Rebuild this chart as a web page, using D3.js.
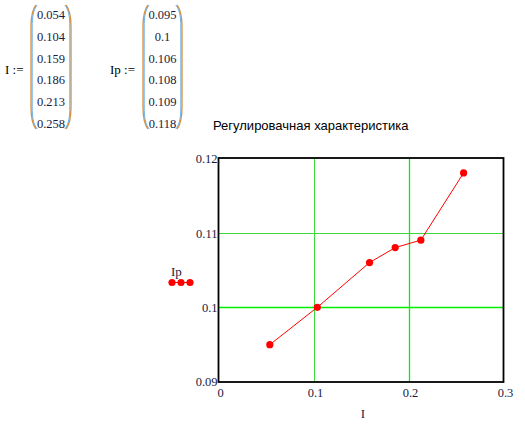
<!DOCTYPE html>
<html><head><meta charset="utf-8">
<script src="https://cdn.jsdelivr.net/npm/d3@7"></script>
<style>body{margin:0;background:#fff}svg{display:block}</style>
</head><body>
<svg id="c" width="525" height="426"></svg>
<script>
const I = [0.054, 0.104, 0.159, 0.186, 0.213, 0.258];
const Ip = [0.095, 0.1, 0.106, 0.108, 0.109, 0.118];
const IpLabels = ["0.095", "0.1", "0.106", "0.108", "0.109", "0.118"];
const ILabels = ["0.054", "0.104", "0.159", "0.186", "0.213", "0.258"];
const xTicks = [0, 0.1, 0.2, 0.3];
const yTicks = [0.09, 0.1, 0.11, 0.12];
const xGrid = [0.1, 0.2];
const yGrid = [0.1, 0.11];
const title = "Регулировачная характеристика";

const svg = d3.select("#c");
const serif = "'Liberation Serif','Times New Roman',serif";
const txt = "#1a1a40";

// matrices
function matrix(name, nameX, parenL, parenR, labels) {
  svg.append("text").attr("x", nameX).attr("y", 74).attr("font-family", serif)
    .attr("font-size", 13).attr("fill", "#000").text(name + " :=");
  const cx = (parenL + parenR) / 2;
  const rowY = d3.scaleLinear().domain([0, 5]).range([19, 128]);
  labels.forEach((l, i) => {
    svg.append("text").attr("x", cx).attr("y", rowY(i)).attr("text-anchor", "middle")
      .attr("font-family", serif).attr("font-size", 12.5).attr("fill", txt).text(l);
  });
  const top = 5, bot = 129;
  const pl = (px, d) => `M${px + d},${top} C${px + d * 0.2},${top + 5} ${px},${top + 12} ${px},${top + 22} ` +
    `L${px},${bot - 22} C${px},${bot - 12} ${px + d * 0.2},${bot - 5} ${px + d},${bot}`;
  svg.append("path").attr("d", pl(parenL, 5)).attr("fill", "none").attr("stroke", "#d9903a").attr("stroke-width", 1.3);
  svg.append("path").attr("d", pl(parenL + 1.2, 5)).attr("fill", "none").attr("stroke", "#5aa8e8").attr("stroke-width", 0.9);
  svg.append("path").attr("d", pl(parenR, -5)).attr("fill", "none").attr("stroke", "#d9903a").attr("stroke-width", 1.3);
  svg.append("path").attr("d", pl(parenR - 1.2, -5)).attr("fill", "none").attr("stroke", "#5aa8e8").attr("stroke-width", 0.9);
}
matrix("I", 5, 31, 71, ILabels);
matrix("Ip", 110, 143, 182, IpLabels);

svg.append("text").attr("x", 213).attr("y", 130).attr("font-family", "'Liberation Sans',Arial,sans-serif")
  .attr("font-size", 13).attr("fill", "#000").text(title);

const x = d3.scaleLinear().domain([0, 0.3]).range([218.5, 503.5]);
const y = d3.scaleLinear().domain([0.09, 0.12]).range([382, 158]);

// grid
svg.selectAll(".gx").data(xGrid).enter().append("line")
  .attr("x1", d => Math.round(x(d)) + 0.5).attr("x2", d => Math.round(x(d)) + 0.5)
  .attr("y1", y(0.12)).attr("y2", y(0.09))
  .attr("stroke", (d, i) => i === 0 ? "#3ad83a" : "#00f000").attr("stroke-width", (d, i) => i === 0 ? 1 : 1.3);
svg.selectAll(".gy").data(yGrid).enter().append("line")
  .attr("y1", d => Math.round(y(d)) + 0.5).attr("y2", d => Math.round(y(d)) + 0.5)
  .attr("x1", x(0)).attr("x2", x(0.3))
  .attr("stroke", (d, i) => i === 1 ? "#3ad83a" : "#00f000").attr("stroke-width", (d, i) => i === 1 ? 1 : 1.3);

// frame
svg.append("rect").attr("x", x(0)).attr("y", y(0.12)).attr("width", x(0.3) - x(0)).attr("height", y(0.09) - y(0.12))
  .attr("fill", "none").attr("stroke", "#000").attr("stroke-width", 1.8);

// ticks
svg.selectAll(".ty").data(yTicks).enter().append("text")
  .attr("x", x(0) - 1).attr("y", d => y(d) + 5 - (d === 0.09 ? 1 : 0)).attr("text-anchor", "end")
  .attr("font-family", serif).attr("font-size", 12.5).attr("fill", txt).text(d => d3.format("")(d));
svg.selectAll(".tx").data(xTicks).enter().append("text")
  .attr("x", d => x(d) + 2).attr("y", 397).attr("text-anchor", "middle")
  .attr("font-family", serif).attr("font-size", 12.5).attr("fill", txt).text(d => d3.format("")(d));

// axis labels
svg.append("text").attr("x", 363).attr("y", 418).attr("text-anchor", "middle")
  .attr("font-family", serif).attr("font-size", 13).attr("fill", txt).text("I");
svg.append("text").attr("x", 171).attr("y", 276)
  .attr("font-family", serif).attr("font-size", 13).attr("fill", txt).text("Ip");
// legend
const legX = [172, 181, 190];
svg.append("line").attr("x1", legX[0]).attr("x2", legX[2]).attr("y1", 282.5).attr("y2", 282.5).attr("stroke", "#ff0000");
svg.selectAll(".lg").data(legX).enter().append("circle").attr("cx", d => d).attr("cy", 282.5).attr("r", 3.6).attr("fill", "#ff0000");

// data
const pts = I.map((v, i) => [v, Ip[i]]);
svg.append("path").attr("d", d3.line().x(d => x(d[0])).y(d => y(d[1]))(pts))
  .attr("fill", "none").attr("stroke", "#ff0000").attr("stroke-width", 1);
svg.selectAll(".pt").data(pts).enter().append("circle")
  .attr("cx", d => x(d[0])).attr("cy", d => y(d[1])).attr("r", 3.6).attr("fill", "#ff0000");
</script>
</body></html>
